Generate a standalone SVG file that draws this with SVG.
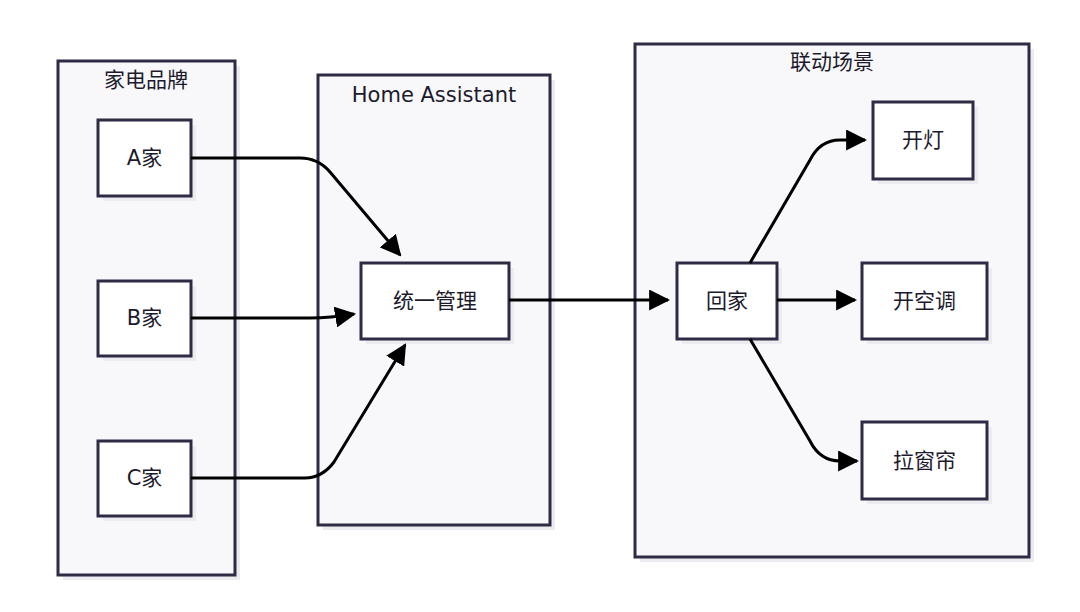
<svg xmlns="http://www.w3.org/2000/svg" width="1080" height="612" viewBox="0 0 1080 612">
<style>
.cl{fill:#f8f8fa;stroke:#2e2b45;stroke-width:3}
.nd{fill:#ffffff;stroke:#2e2b45;stroke-width:3}
.sh{fill:#ececf0}
text{font-family:"DejaVu Sans","Noto Sans CJK SC",sans-serif;font-size:21px;fill:#1c1a2c;text-anchor:middle;dominant-baseline:central}
.e{fill:none;stroke:#000;stroke-width:3;marker-end:url(#a)}
</style>
<defs><marker id="a" viewBox="0 0 10 10" refX="9" refY="5" markerWidth="7" markerHeight="7" orient="auto" markerUnits="strokeWidth"><path d="M0,0L10,5L0,10z" fill="#000"/></marker></defs>
<rect x="0" y="0" width="1080" height="612" fill="#fff"/>
<g id="c1"><rect class="sh" x="63" y="66" width="177" height="514"/><rect class="cl" x="58" y="61" width="177" height="514"/><text x="146" y="80">家电品牌</text></g>
<g id="c2"><rect class="sh" x="323" y="80" width="232" height="450"/><rect class="cl" x="318" y="75" width="232" height="450"/><text x="434" y="95">Home Assistant</text></g>
<g id="c3"><rect class="sh" x="640" y="49" width="394" height="513"/><rect class="cl" x="635" y="44" width="394" height="513"/><text x="832" y="62">联动场景</text></g>
<g id="nA"><rect class="sh" x="103" y="125" width="93" height="76"/><rect class="nd" x="98" y="120" width="93" height="76"/><text x="144.5" y="158">A家</text></g>
<g id="nB"><rect class="sh" x="103" y="286" width="93" height="75"/><rect class="nd" x="98" y="281" width="93" height="75"/><text x="144.5" y="318">B家</text></g>
<g id="nC"><rect class="sh" x="103" y="446" width="93" height="75"/><rect class="nd" x="98" y="441" width="93" height="75"/><text x="144.5" y="478">C家</text></g>
<g id="nU"><rect class="sh" x="366" y="268" width="148" height="76"/><rect class="nd" x="361" y="263" width="148" height="76"/><text x="435" y="301">统一管理</text></g>
<g id="nH"><rect class="sh" x="682" y="268" width="100" height="76"/><rect class="nd" x="677" y="263" width="100" height="76"/><text x="727" y="301">回家</text></g>
<g id="nL"><rect class="sh" x="878" y="107" width="100" height="77"/><rect class="nd" x="873" y="102" width="100" height="77"/><text x="923" y="140">开灯</text></g>
<g id="nK"><rect class="sh" x="867" y="268" width="125" height="76"/><rect class="nd" x="862" y="263" width="125" height="76"/><text x="924.5" y="301">开空调</text></g>
<g id="nR"><rect class="sh" x="867" y="427" width="125" height="77"/><rect class="nd" x="862" y="422" width="125" height="77"/><text x="924.5" y="461">拉窗帘</text></g>
<g id="edges">
<path class="e" d="M191,158H300Q318,158 330,172L400,255"/>
<path class="e" d="M191,318H310Q330,318 354,314"/>
<path class="e" d="M191,478H305Q322,478 334,462L405,345"/>
<path class="e" d="M509,300H668"/>
<path class="e" d="M750,263L810,160Q820,140 840,140H865"/>
<path class="e" d="M777,300H855"/>
<path class="e" d="M750,339L810,441Q820,461 840,461H857"/>
</g>
</svg>
